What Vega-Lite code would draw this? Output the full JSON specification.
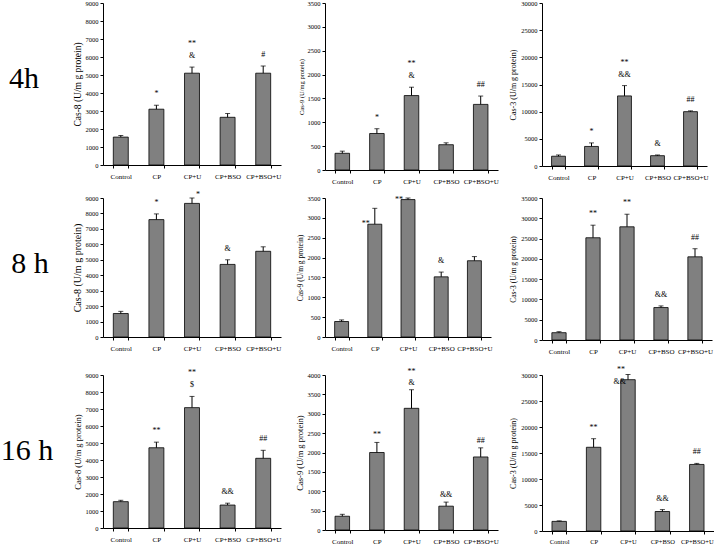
{
  "$schema": "https://vega.github.io/schema/vega-lite/v6.json",
  "padding": 0,
  "background": "white",
  "datasets": {
    "caspase": [
      {"time":"4h","enzyme":"Cas-8","group":"Control","value":1550,"upper":1640,"sig":"","sigTop":""},
      {"time":"4h","enzyme":"Cas-8","group":"CP","value":3100,"upper":3320,"sig":"*","sigTop":""},
      {"time":"4h","enzyme":"Cas-8","group":"CP+U","value":5100,"upper":5440,"sig":"&","sigTop":"**"},
      {"time":"4h","enzyme":"Cas-8","group":"CP+BSO","value":2650,"upper":2860,"sig":"","sigTop":""},
      {"time":"4h","enzyme":"Cas-8","group":"CP+BSO+U","value":5100,"upper":5500,"sig":"#","sigTop":""},
      {"time":"4h","enzyme":"Cas-9","group":"Control","value":350,"upper":395,"sig":"","sigTop":""},
      {"time":"4h","enzyme":"Cas-9","group":"CP","value":765,"upper":865,"sig":"*","sigTop":""},
      {"time":"4h","enzyme":"Cas-9","group":"CP+U","value":1560,"upper":1735,"sig":"&","sigTop":"**"},
      {"time":"4h","enzyme":"Cas-9","group":"CP+BSO","value":530,"upper":570,"sig":"","sigTop":""},
      {"time":"4h","enzyme":"Cas-9","group":"CP+BSO+U","value":1375,"upper":1550,"sig":"##","sigTop":""},
      {"time":"4h","enzyme":"Cas-3","group":"Control","value":1800,"upper":2030,"sig":"","sigTop":""},
      {"time":"4h","enzyme":"Cas-3","group":"CP","value":3600,"upper":4250,"sig":"*","sigTop":""},
      {"time":"4h","enzyme":"Cas-3","group":"CP+U","value":12900,"upper":14800,"sig":"&&","sigTop":"**"},
      {"time":"4h","enzyme":"Cas-3","group":"CP+BSO","value":1900,"upper":2030,"sig":"&","sigTop":""},
      {"time":"4h","enzyme":"Cas-3","group":"CP+BSO+U","value":10000,"upper":10150,"sig":"##","sigTop":""},
      {"time":"8h","enzyme":"Cas-8","group":"Control","value":1520,"upper":1660,"sig":"","sigTop":""},
      {"time":"8h","enzyme":"Cas-8","group":"CP","value":7600,"upper":7970,"sig":"*","sigTop":""},
      {"time":"8h","enzyme":"Cas-8","group":"CP+U","value":8650,"upper":9000,"sig":"*","sigTop":""},
      {"time":"8h","enzyme":"Cas-8","group":"CP+BSO","value":4700,"upper":5000,"sig":"&","sigTop":""},
      {"time":"8h","enzyme":"Cas-8","group":"CP+BSO+U","value":5550,"upper":5840,"sig":"","sigTop":""},
      {"time":"8h","enzyme":"Cas-9","group":"Control","value":390,"upper":430,"sig":"","sigTop":""},
      {"time":"8h","enzyme":"Cas-9","group":"CP","value":2840,"upper":3240,"sig":"**","sigTop":""},
      {"time":"8h","enzyme":"Cas-9","group":"CP+U","value":3460,"upper":3500,"sig":"**","sigTop":""},
      {"time":"8h","enzyme":"Cas-9","group":"CP+BSO","value":1515,"upper":1635,"sig":"&","sigTop":""},
      {"time":"8h","enzyme":"Cas-9","group":"CP+BSO+U","value":1920,"upper":2025,"sig":"","sigTop":""},
      {"time":"8h","enzyme":"Cas-3","group":"Control","value":1800,"upper":2050,"sig":"","sigTop":""},
      {"time":"8h","enzyme":"Cas-3","group":"CP","value":25200,"upper":28300,"sig":"**","sigTop":""},
      {"time":"8h","enzyme":"Cas-3","group":"CP+U","value":27900,"upper":31000,"sig":"**","sigTop":""},
      {"time":"8h","enzyme":"Cas-3","group":"CP+BSO","value":8000,"upper":8400,"sig":"&&","sigTop":""},
      {"time":"8h","enzyme":"Cas-3","group":"CP+BSO+U","value":20500,"upper":22500,"sig":"##","sigTop":""},
      {"time":"16h","enzyme":"Cas-8","group":"Control","value":1550,"upper":1630,"sig":"","sigTop":""},
      {"time":"16h","enzyme":"Cas-8","group":"CP","value":4720,"upper":5050,"sig":"**","sigTop":""},
      {"time":"16h","enzyme":"Cas-8","group":"CP+U","value":7080,"upper":7740,"sig":"$","sigTop":"**"},
      {"time":"16h","enzyme":"Cas-8","group":"CP+BSO","value":1350,"upper":1460,"sig":"&&","sigTop":""},
      {"time":"16h","enzyme":"Cas-8","group":"CP+BSO+U","value":4100,"upper":4570,"sig":"##","sigTop":""},
      {"time":"16h","enzyme":"Cas-9","group":"Control","value":355,"upper":405,"sig":"","sigTop":""},
      {"time":"16h","enzyme":"Cas-9","group":"CP","value":2000,"upper":2260,"sig":"**","sigTop":""},
      {"time":"16h","enzyme":"Cas-9","group":"CP+U","value":3140,"upper":3620,"sig":"&","sigTop":"**"},
      {"time":"16h","enzyme":"Cas-9","group":"CP+BSO","value":615,"upper":720,"sig":"&&","sigTop":""},
      {"time":"16h","enzyme":"Cas-9","group":"CP+BSO+U","value":1885,"upper":2120,"sig":"##","sigTop":""},
      {"time":"16h","enzyme":"Cas-3","group":"Control","value":1850,"upper":1950,"sig":"","sigTop":""},
      {"time":"16h","enzyme":"Cas-3","group":"CP","value":16100,"upper":17750,"sig":"**","sigTop":""},
      {"time":"16h","enzyme":"Cas-3","group":"CP+U","value":29100,"upper":30100,"sig":"&&","sigTop":"**"},
      {"time":"16h","enzyme":"Cas-3","group":"CP+BSO","value":3750,"upper":4120,"sig":"&&","sigTop":""},
      {"time":"16h","enzyme":"Cas-3","group":"CP+BSO+U","value":12800,"upper":13000,"sig":"##","sigTop":""}
    ]
  },
  "columns": 4,
  "bounds": "flush",
  "spacing": {"row": 28, "column": 44},
  "concat": [
    {"width": 54, "height": 152, "data": {"values": [{"t": "4h"}]},
     "mark": {"type": "text", "font": "Liberation Serif", "fontSize": 30, "baseline": "middle", "dy": 0, "dx": -8},
     "encoding": {"text": {"field": "t"}}},
    {"width": 178, "height": 162, "data": {"name": "caspase"},
     "transform": [{"filter": "datum.time === '4h' && datum.enzyme === 'Cas-8'"}],
     "resolve": {"axis": {"y": "independent"}},
     "encoding": {"x": {"field": "group", "type": "nominal", "sort": ["Control","CP","CP+U","CP+BSO","CP+BSO+U"], "scale": {"paddingInner": 0.58, "paddingOuter": 0.29}, "axis": {"title": null}}},
     "layer": [
       {"mark": "bar", "encoding": {"y": {"field": "value", "type": "quantitative", "scale": {"domain": [0, 9000]}, "axis": {"values": [0,1000,2000,3000,4000,5000,6000,7000,8000,9000], "labelOverlap": false, "title": "Cas-8 (U/m g protein)", "titleFontSize": 9.5}}}},
       {"mark": "rule", "encoding": {"y": {"field": "value", "type": "quantitative", "axis": null}, "y2": {"field": "upper"}}},
       {"mark": "tick", "encoding": {"y": {"field": "upper", "type": "quantitative", "axis": null}}},
       {"mark": "text", "encoding": {"y": {"field": "upper", "type": "quantitative", "axis": null}, "text": {"field": "sig"}}},
       {"mark": {"type": "text", "dy": -19}, "encoding": {"y": {"field": "upper", "type": "quantitative", "axis": null}, "text": {"field": "sigTop"}}}
     ]},
    {"width": 173, "height": 167, "data": {"name": "caspase"},
     "transform": [{"filter": "datum.time === '4h' && datum.enzyme === 'Cas-9'"}],
     "resolve": {"axis": {"y": "independent"}},
     "encoding": {"x": {"field": "group", "type": "nominal", "sort": ["Control","CP","CP+U","CP+BSO","CP+BSO+U"], "scale": {"paddingInner": 0.58, "paddingOuter": 0.29}, "axis": {"title": null}}},
     "layer": [
       {"mark": "bar", "encoding": {"y": {"field": "value", "type": "quantitative", "scale": {"domain": [0, 3500]}, "axis": {"values": [0,500,1000,1500,2000,2500,3000,3500], "labelOverlap": false, "title": "Cas-9 (U/mg protein)", "titleFontSize": 6.5}}}},
       {"mark": "rule", "encoding": {"y": {"field": "value", "type": "quantitative", "axis": null}, "y2": {"field": "upper"}}},
       {"mark": "tick", "encoding": {"y": {"field": "upper", "type": "quantitative", "axis": null}}},
       {"mark": "text", "encoding": {"y": {"field": "upper", "type": "quantitative", "axis": null}, "text": {"field": "sig"}}},
       {"mark": {"type": "text", "dy": -19}, "encoding": {"y": {"field": "upper", "type": "quantitative", "axis": null}, "text": {"field": "sigTop"}}}
     ]},
    {"width": 165, "height": 163, "data": {"name": "caspase"},
     "transform": [{"filter": "datum.time === '4h' && datum.enzyme === 'Cas-3'"}],
     "resolve": {"axis": {"y": "independent"}},
     "encoding": {"x": {"field": "group", "type": "nominal", "sort": ["Control","CP","CP+U","CP+BSO","CP+BSO+U"], "scale": {"paddingInner": 0.58, "paddingOuter": 0.29}, "axis": {"title": null}}},
     "layer": [
       {"mark": "bar", "encoding": {"y": {"field": "value", "type": "quantitative", "scale": {"domain": [0, 30000]}, "axis": {"values": [0,5000,10000,15000,20000,25000,30000], "labelOverlap": false, "title": "Cas-3 (U/m g protein)", "titleFontSize": 8}}}},
       {"mark": "rule", "encoding": {"y": {"field": "value", "type": "quantitative", "axis": null}, "y2": {"field": "upper"}}},
       {"mark": "tick", "encoding": {"y": {"field": "upper", "type": "quantitative", "axis": null}}},
       {"mark": "text", "encoding": {"y": {"field": "upper", "type": "quantitative", "axis": null}, "text": {"field": "sig"}}},
       {"mark": {"type": "text", "dy": -19}, "encoding": {"y": {"field": "upper", "type": "quantitative", "axis": null}, "text": {"field": "sigTop"}}}
     ]},
    {"width": 54, "height": 149, "data": {"values": [{"t": "8 h"}]},
     "mark": {"type": "text", "font": "Liberation Serif", "fontSize": 30, "baseline": "middle", "dy": -8.5, "dx": -2},
     "encoding": {"text": {"field": "t"}}},
    {"width": 178, "height": 139, "data": {"name": "caspase"},
     "transform": [{"filter": "datum.time === '8h' && datum.enzyme === 'Cas-8'"}],
     "resolve": {"axis": {"y": "independent"}},
     "encoding": {"x": {"field": "group", "type": "nominal", "sort": ["Control","CP","CP+U","CP+BSO","CP+BSO+U"], "scale": {"paddingInner": 0.58, "paddingOuter": 0.29}, "axis": {"title": null}}},
     "layer": [
       {"mark": "bar", "encoding": {"y": {"field": "value", "type": "quantitative", "scale": {"domain": [0, 9000]}, "axis": {"values": [0,1000,2000,3000,4000,5000,6000,7000,8000,9000], "labelOverlap": false, "title": "Cas-8 (U/m g protein)", "titleFontSize": 10}}}},
       {"mark": "rule", "encoding": {"y": {"field": "value", "type": "quantitative", "axis": null}, "y2": {"field": "upper"}}},
       {"mark": "tick", "encoding": {"y": {"field": "upper", "type": "quantitative", "axis": null}}},
       {"mark": "text", "transform": [{"filter": "datum.group !== 'CP+U'"}], "encoding": {"y": {"field": "upper", "type": "quantitative", "axis": null}, "text": {"field": "sig"}}},
       {"mark": {"type": "text", "align": "left", "baseline": "middle", "dx": 4, "dy": -3}, "transform": [{"filter": "datum.group === 'CP+U'"}], "encoding": {"y": {"field": "upper", "type": "quantitative", "axis": null}, "text": {"field": "sig"}}}
     ]},
    {"width": 166, "height": 139, "data": {"name": "caspase"},
     "transform": [{"filter": "datum.time === '8h' && datum.enzyme === 'Cas-9'"}],
     "resolve": {"axis": {"y": "independent"}},
     "encoding": {"x": {"field": "group", "type": "nominal", "sort": ["Control","CP","CP+U","CP+BSO","CP+BSO+U"], "scale": {"paddingInner": 0.58, "paddingOuter": 0.29}, "axis": {"title": null}}},
     "layer": [
       {"mark": "bar", "encoding": {"y": {"field": "value", "type": "quantitative", "scale": {"domain": [0, 3500]}, "axis": {"values": [0,500,1000,1500,2000,2500,3000,3500], "labelOverlap": false, "title": "Cas-9 (U/m g protein)", "titleFontSize": 7.5}}}},
       {"mark": "rule", "encoding": {"y": {"field": "value", "type": "quantitative", "axis": null}, "y2": {"field": "upper"}}},
       {"mark": "tick", "encoding": {"y": {"field": "upper", "type": "quantitative", "axis": null}}},
       {"mark": "text", "transform": [{"filter": "datum.group !== 'CP' && datum.group !== 'CP+U'"}], "encoding": {"y": {"field": "upper", "type": "quantitative", "axis": null}, "text": {"field": "sig"}}},
       {"mark": {"type": "text", "align": "right", "baseline": "middle", "dx": -5, "dy": 0}, "transform": [{"filter": "datum.group === 'CP' || datum.group === 'CP+U'"}], "encoding": {"y": {"field": "value", "type": "quantitative", "axis": null}, "text": {"field": "sig"}}}
     ]},
    {"width": 170, "height": 142, "data": {"name": "caspase"},
     "transform": [{"filter": "datum.time === '8h' && datum.enzyme === 'Cas-3'"}],
     "resolve": {"axis": {"y": "independent"}},
     "encoding": {"x": {"field": "group", "type": "nominal", "sort": ["Control","CP","CP+U","CP+BSO","CP+BSO+U"], "scale": {"paddingInner": 0.58, "paddingOuter": 0.29}, "axis": {"title": null}}},
     "layer": [
       {"mark": "bar", "encoding": {"y": {"field": "value", "type": "quantitative", "scale": {"domain": [0, 35000]}, "axis": {"values": [0,5000,10000,15000,20000,25000,30000,35000], "labelOverlap": false, "title": "Cas-3 (U/m g protein)", "titleFontSize": 7.5}}}},
       {"mark": "rule", "encoding": {"y": {"field": "value", "type": "quantitative", "axis": null}, "y2": {"field": "upper"}}},
       {"mark": "tick", "encoding": {"y": {"field": "upper", "type": "quantitative", "axis": null}}},
       {"mark": "text", "encoding": {"y": {"field": "upper", "type": "quantitative", "axis": null}, "text": {"field": "sig"}}}
     ]},
    {"width": 54, "height": 152, "data": {"values": [{"t": "16 h"}]},
     "mark": {"type": "text", "font": "Liberation Serif", "fontSize": 30, "baseline": "middle", "dy": 0, "dx": -5},
     "encoding": {"text": {"field": "t"}}},
    {"width": 178, "height": 153, "data": {"name": "caspase"},
     "transform": [{"filter": "datum.time === '16h' && datum.enzyme === 'Cas-8'"}],
     "resolve": {"axis": {"y": "independent"}},
     "encoding": {"x": {"field": "group", "type": "nominal", "sort": ["Control","CP","CP+U","CP+BSO","CP+BSO+U"], "scale": {"paddingInner": 0.58, "paddingOuter": 0.29}, "axis": {"title": null}}},
     "layer": [
       {"mark": "bar", "encoding": {"y": {"field": "value", "type": "quantitative", "scale": {"domain": [0, 9000]}, "axis": {"values": [0,1000,2000,3000,4000,5000,6000,7000,8000,9000], "labelOverlap": false, "title": "Cas-8 (U/m g protein)", "titleFontSize": 8.5}}}},
       {"mark": "rule", "encoding": {"y": {"field": "value", "type": "quantitative", "axis": null}, "y2": {"field": "upper"}}},
       {"mark": "tick", "encoding": {"y": {"field": "upper", "type": "quantitative", "axis": null}}},
       {"mark": "text", "encoding": {"y": {"field": "upper", "type": "quantitative", "axis": null}, "text": {"field": "sig"}}},
       {"mark": {"type": "text", "dy": -19}, "encoding": {"y": {"field": "upper", "type": "quantitative", "axis": null}, "text": {"field": "sigTop"}}}
     ]},
    {"width": 173, "height": 155, "data": {"name": "caspase"},
     "transform": [{"filter": "datum.time === '16h' && datum.enzyme === 'Cas-9'"}],
     "resolve": {"axis": {"y": "independent"}},
     "encoding": {"x": {"field": "group", "type": "nominal", "sort": ["Control","CP","CP+U","CP+BSO","CP+BSO+U"], "scale": {"paddingInner": 0.58, "paddingOuter": 0.29}, "axis": {"title": null}}},
     "layer": [
       {"mark": "bar", "encoding": {"y": {"field": "value", "type": "quantitative", "scale": {"domain": [0, 4000]}, "axis": {"values": [0,500,1000,1500,2000,2500,3000,3500,4000], "labelOverlap": false, "title": "Cas-9 (U/m g protein)", "titleFontSize": 8.5}}}},
       {"mark": "rule", "encoding": {"y": {"field": "value", "type": "quantitative", "axis": null}, "y2": {"field": "upper"}}},
       {"mark": "tick", "encoding": {"y": {"field": "upper", "type": "quantitative", "axis": null}}},
       {"mark": {"type": "text", "dy": -3}, "encoding": {"y": {"field": "upper", "type": "quantitative", "axis": null}, "text": {"field": "sig"}}},
       {"mark": {"type": "text", "dy": -14}, "encoding": {"y": {"field": "upper", "type": "quantitative", "axis": null}, "text": {"field": "sigTop"}}}
     ]},
    {"width": 172, "height": 156, "data": {"name": "caspase"},
     "transform": [{"filter": "datum.time === '16h' && datum.enzyme === 'Cas-3'"}],
     "resolve": {"axis": {"y": "independent"}},
     "encoding": {"x": {"field": "group", "type": "nominal", "sort": ["Control","CP","CP+U","CP+BSO","CP+BSO+U"], "scale": {"paddingInner": 0.58, "paddingOuter": 0.29}, "axis": {"title": null, "labelFontSize": 6.5}}},
     "layer": [
       {"mark": "bar", "encoding": {"y": {"field": "value", "type": "quantitative", "scale": {"domain": [0, 30000]}, "axis": {"values": [0,5000,10000,15000,20000,25000,30000], "labelOverlap": false, "title": "Cas-3 (U/m g protein)", "titleFontSize": 8}}}},
       {"mark": "rule", "encoding": {"y": {"field": "value", "type": "quantitative", "axis": null}, "y2": {"field": "upper"}}},
       {"mark": "tick", "encoding": {"y": {"field": "upper", "type": "quantitative", "axis": null}}},
       {"mark": "text", "transform": [{"filter": "datum.group !== 'CP+U'"}], "encoding": {"y": {"field": "upper", "type": "quantitative", "axis": null}, "text": {"field": "sig"}}},
       {"mark": {"type": "text", "align": "right", "baseline": "middle", "dx": -2, "dy": 2}, "transform": [{"filter": "datum.group === 'CP+U'"}], "encoding": {"y": {"field": "value", "type": "quantitative", "axis": null}, "text": {"field": "sig"}}},
       {"mark": {"type": "text", "align": "right", "baseline": "middle", "dx": -3, "dy": -10}, "transform": [{"filter": "datum.group === 'CP+U'"}], "encoding": {"y": {"field": "value", "type": "quantitative", "axis": null}, "text": {"field": "sigTop"}}}
     ]}
  ],
  "config": {
    "view": {"stroke": null},
    "bar": {"fill": "#808080", "stroke": "#000000", "strokeWidth": 0.8},
    "rule": {"color": "#000000", "strokeWidth": 1},
    "tick": {"color": "#000000", "size": 5, "thickness": 1},
    "text": {"font": "Liberation Serif", "fontSize": 8, "baseline": "bottom", "dy": -7, "color": "#000000"},
    "axis": {"labelFont": "Liberation Serif", "titleFont": "Liberation Serif", "labelFontSize": 6.5, "titleFontSize": 7, "titleFontWeight": "normal", "tickSize": 3, "domainColor": "#000000", "tickColor": "#000000", "labelColor": "#000000", "titleColor": "#000000", "grid": false, "domainWidth": 1, "tickWidth": 1, "labelOverlap": false},
    "axisX": {"labelAngle": 0, "tickBand": "extent", "labelPadding": 4, "labelFontSize": 7},
    "axisY": {"format": "d", "titlePadding": 3, "labelPadding": 2}
  }
}
